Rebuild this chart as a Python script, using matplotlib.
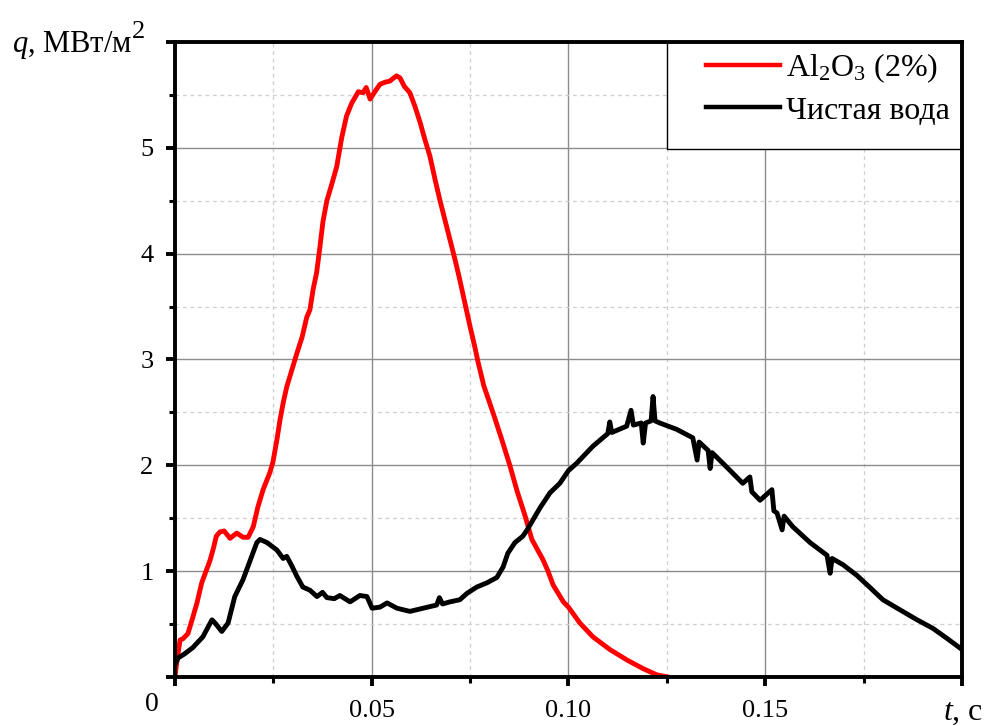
import numpy as np
import matplotlib
matplotlib.use("Agg")
import matplotlib.pyplot as plt
from matplotlib.ticker import MultipleLocator, FixedLocator
from matplotlib.patches import Rectangle

plt.rcParams['font.family'] = ['Liberation Serif', 'DejaVu Serif']
plt.rcParams['mathtext.fontset'] = 'custom'
plt.rcParams['mathtext.rm'] = 'Liberation Serif'
plt.rcParams['mathtext.it'] = 'Liberation Serif:italic'

# (t, q) pairs
al2o3_points = [
    (0.0, 0.0), (0.0005, 0.15), (0.0013, 0.35), (0.0020, 0.36), (0.0033, 0.41),
    (0.0045, 0.56), (0.0056, 0.70), (0.0068, 0.89), (0.0080, 1.01), (0.0089, 1.10),
    (0.0098, 1.22), (0.0105, 1.33), (0.0114, 1.37), (0.0125, 1.38), (0.0140, 1.31),
    (0.0157, 1.36), (0.0173, 1.32), (0.0186, 1.32), (0.0199, 1.42), (0.0211, 1.61),
    (0.0224, 1.77), (0.0241, 1.93), (0.0249, 2.03), (0.0259, 2.24), (0.0267, 2.43),
    (0.0275, 2.59), (0.0284, 2.74), (0.0297, 2.90), (0.0310, 3.06), (0.0323, 3.21),
    (0.0335, 3.40), (0.0343, 3.47), (0.0351, 3.66), (0.0360, 3.82), (0.0368, 4.05),
    (0.0376, 4.30), (0.0386, 4.50), (0.0398, 4.65), (0.0411, 4.82), (0.0424, 5.10),
    (0.0436, 5.30), (0.0449, 5.42), (0.0466, 5.53), (0.0478, 5.52), (0.0486, 5.57),
    (0.0496, 5.46), (0.0508, 5.53), (0.0521, 5.60), (0.0534, 5.62), (0.0546, 5.63),
    (0.0556, 5.66), (0.0563, 5.68), (0.0572, 5.66), (0.0583, 5.58), (0.0597, 5.52),
    (0.0610, 5.39), (0.0623, 5.24), (0.0635, 5.08), (0.0648, 4.92), (0.0661, 4.70),
    (0.0673, 4.51), (0.0686, 4.32), (0.0699, 4.13), (0.0712, 3.94), (0.0724, 3.75),
    (0.0737, 3.53), (0.0750, 3.31), (0.0762, 3.12), (0.0770, 2.98), (0.0785, 2.75),
    (0.0808, 2.50), (0.0830, 2.25), (0.0851, 2.00), (0.0870, 1.75), (0.0890, 1.52),
    (0.0907, 1.30), (0.0935, 1.11), (0.0948, 1.00), (0.0961, 0.87), (0.0987, 0.71),
    (0.1000, 0.66), (0.1029, 0.51), (0.1062, 0.38), (0.1105, 0.26), (0.1149, 0.16),
    (0.1189, 0.08), (0.1225, 0.02), (0.1253, 0.0),
]

water_points = [
    (0.0003, 0.14), (0.0008, 0.18), (0.0025, 0.22), (0.0046, 0.28), (0.0071, 0.38),
    (0.0094, 0.54), (0.0102, 0.51), (0.0119, 0.43), (0.0135, 0.51), (0.0152, 0.76),
    (0.0173, 0.92), (0.0191, 1.10), (0.0208, 1.27), (0.0216, 1.30), (0.0234, 1.27),
    (0.0259, 1.20), (0.0275, 1.12), (0.0284, 1.14), (0.0297, 1.05), (0.0310, 0.95),
    (0.0325, 0.85), (0.0343, 0.82), (0.0361, 0.76), (0.0375, 0.80), (0.0386, 0.75),
    (0.0405, 0.74), (0.0419, 0.77), (0.0445, 0.71), (0.0470, 0.77), (0.0488, 0.76),
    (0.0501, 0.65), (0.0521, 0.66), (0.0539, 0.70), (0.0564, 0.65), (0.0597, 0.62),
    (0.0631, 0.65), (0.0665, 0.68), (0.0672, 0.75), (0.0680, 0.69), (0.0699, 0.71),
    (0.0724, 0.73), (0.0742, 0.79), (0.0767, 0.85), (0.0793, 0.89), (0.0818, 0.94),
    (0.0834, 1.04), (0.0846, 1.17), (0.0864, 1.27), (0.0884, 1.33), (0.0895, 1.39),
    (0.0928, 1.60), (0.0953, 1.74), (0.0978, 1.83), (0.1000, 1.95), (0.1021, 2.02),
    (0.1062, 2.18), (0.1100, 2.30), (0.1105, 2.41), (0.1110, 2.31), (0.1148, 2.37),
    (0.1159, 2.52), (0.1165, 2.38), (0.1185, 2.40), (0.1190, 2.21), (0.1196, 2.40),
    (0.1210, 2.42), (0.1215, 2.65), (0.1220, 2.42), (0.1232, 2.40), (0.1275, 2.34),
    (0.1316, 2.26), (0.1327, 2.05), (0.1332, 2.22), (0.1355, 2.14), (0.1360, 1.97),
    (0.1365, 2.12), (0.1403, 1.98), (0.1443, 1.83), (0.1461, 1.89), (0.1466, 1.75),
    (0.1487, 1.67), (0.1517, 1.77), (0.1522, 1.57), (0.1530, 1.55), (0.1543, 1.39),
    (0.1548, 1.52), (0.1570, 1.42), (0.1614, 1.27), (0.1657, 1.15), (0.1665, 0.98),
    (0.1670, 1.12), (0.1698, 1.06), (0.1733, 0.96), (0.1765, 0.85), (0.1799, 0.73),
    (0.1840, 0.64), (0.1886, 0.54), (0.1926, 0.46), (0.1960, 0.37), (0.2000, 0.26),
]

series_labels = ['Al$_2$O$_3$ (2%)', 'Чистая вода']
x_ticks = [0.0, 0.05, 0.10, 0.15, 0.20]
x_ticklabels = ['', '0.05', '0.10', '0.15', '']
y_ticks = [0, 1, 2, 3, 4, 5, 6]
y_ticklabels = ['', '1', '2', '3', '4', '5', '']

red_t, red_q = np.array(al2o3_points).T
blk_t, blk_q = np.array(water_points).T

fig = plt.figure(figsize=(9.84, 7.26), dpi=100)
ax = fig.add_axes([0.1778, 0.0675, 0.7998, 0.8747])

ax.plot(red_t, red_q, color='#ff0000', lw=3.5, label=series_labels[0], zorder=3)
ax.plot(blk_t, blk_q, color='black', lw=3.5, label=series_labels[1], zorder=3)

ax.set_xlim(0, 0.2)
ax.set_ylim(0, 6)
ax.xaxis.set_major_locator(FixedLocator(x_ticks))
ax.set_xticklabels(x_ticklabels)
ax.xaxis.set_minor_locator(MultipleLocator(0.025))
ax.yaxis.set_major_locator(FixedLocator(y_ticks))
ax.set_yticklabels(y_ticklabels)
ax.yaxis.set_minor_locator(MultipleLocator(0.5))

ax.grid(which='major', color='#8c8c8c', lw=1.0, ls='-', zorder=0)
ax.grid(which='minor', color='#cfcfcf', lw=0.9, ls=(0, (3, 3)), zorder=0)
ax.set_axisbelow(True)

for s in ax.spines.values():
    s.set_linewidth(2.8)
    s.set_zorder(6)
ax.tick_params(which='major', direction='out', length=6.5, width=2.8,
               labelsize=19, pad=10)
ax.tick_params(which='minor', direction='out', length=4, width=2.2)
ax.tick_params(axis='y', which='major', pad=9)

# legend box, Origin style (wide left margin)
box = Rectangle((0.625, 0.8315), 0.375, 0.1685, transform=ax.transAxes,
                facecolor='white', edgecolor='black', lw=1.0, zorder=4)
ax.add_patch(box)
leg = ax.legend(loc='upper right', bbox_to_anchor=(0.997, 1.0), borderaxespad=0.1,
                fontsize=23, frameon=False, handlelength=2.3,
                handletextpad=0.2, borderpad=0.2, labelspacing=0.35)
leg.set_zorder(5)
for line in leg.get_lines():
    line.set_linewidth(3.2)

# axis titles
fig.text(0.012, 0.928, '$q$, МВт/м', fontsize=22, va='baseline', ha='left')
fig.text(0.1345, 0.9477, '2', fontsize=19, va='baseline', ha='left')
fig.text(0.1545, 0.029, '0', fontsize=20, va='center', ha='center')
fig.text(0.958, 0.019, '$t$, с', fontsize=23, va='center', ha='left')

fig.savefig('out.png', dpi=100)
